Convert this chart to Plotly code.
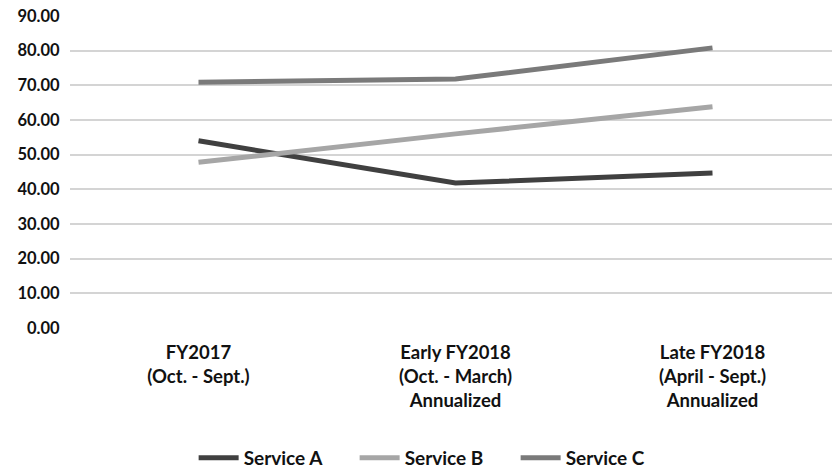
import plotly.graph_objects as go

categories = ["FY2017<br>(Oct. - Sept.)",
              "Early FY2018<br>(Oct. - March)<br>Annualized",
              "Late FY2018<br>(April - Sept.)<br>Annualized"]
service_a = [54.0, 41.8, 44.7]
service_b = [47.8, 56.0, 63.8]
service_c = [70.9, 71.8, 80.8]
y_ticks = [0, 10, 20, 30, 40, 50, 60, 70, 80, 90]

FONT = "Lato"
fig = go.Figure()
for name, vals, col in [("Service A", service_a, "#404040"),
                        ("Service B", service_b, "#a6a6a6"),
                        ("Service C", service_c, "#7a7a7a")]:
    fig.add_trace(go.Scatter(x=list(range(len(categories))), y=vals, name=name,
                             mode="lines", line=dict(color=col, width=5)))

fig.update_layout(
    width=832, height=471,
    margin=dict(l=70, r=0, t=16, b=143),
    paper_bgcolor="white", plot_bgcolor="white",
    font=dict(family=FONT, size=16, color="#111111", weight=700),
    showlegend=True,
    legend=dict(orientation="h", xref="container", yref="container",
                x=0.523, xanchor="center", y=0.028, yanchor="middle",
                font=dict(family=FONT, size=19, color="#111111", weight=700),
                itemwidth=40, tracegroupgap=0,
                entrywidth=106, entrywidthmode="pixels"),
)
fig.update_xaxes(range=[-0.5, 2.465], tickmode="array",
                 tickvals=list(range(len(categories))), ticktext=categories,
                 showgrid=False, zeroline=False, showline=False,
                 ticks="outside", ticklen=8, tickcolor="white",
                 tickfont=dict(family=FONT, size=18.5, color="#111111", weight=700))
fig.update_yaxes(range=[0, 90], tickmode="array", tickvals=y_ticks,
                 ticktext=[f"{v:.2f}" for v in y_ticks],
                 showgrid=True, gridcolor="#d4d4d4", gridwidth=2,
                 zeroline=False, showline=False,
                 ticks="outside", ticklen=6, tickcolor="white",
                 tickfont=dict(family=FONT, size=16.5, color="#111111", weight=700))

fig.write_html("out.html")
